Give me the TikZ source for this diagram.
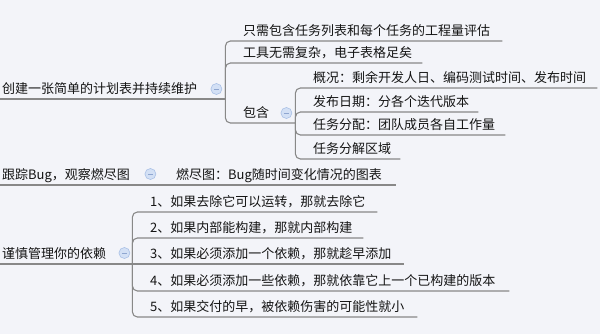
\documentclass[tikz,border=0pt]{standalone}
\usepackage{fontspec}
\setmainfont{Noto Sans CJK SC}
\definecolor{bg}{HTML}{F3F4F9}
\definecolor{ink}{HTML}{141414}
\definecolor{wire}{HTML}{888888}
\definecolor{knobfill}{HTML}{D3E0F5}
\definecolor{knobedge}{HTML}{A9C0E6}
\definecolor{knobbar}{HTML}{8FA6D0}
\begin{document}
\begin{tikzpicture}[x=1pt,y=-1pt,
  label text/.style={anchor=south west, inner ysep=0pt, text height=13pt, text depth=5pt,
    align=left, text=ink, font=\fontsize{13pt}{15pt}\selectfont},
  topic/.style={label text, inner xsep=2pt},
  subtopic/.style={label text, inner xsep=0pt},
  wire/.style={draw=wire, line width=1.1pt, rounded corners=5pt},
  knob/.style={circle, minimum size=11pt, inner sep=0pt, fill=knobfill, draw=knobedge,
    line width=0.6pt,
    path picture={\draw[knobbar, line width=0.9pt]
      ([xshift=-2.6pt]path picture bounding box.center) --
      ([xshift=2.6pt]path picture bounding box.center);}}]

\useasboundingbox[fill=bg] (0,0) rectangle (600,334);

% ---- branch 1: planning sheet ----
\node[topic, text width=221pt] (t1) at (0,99) {创建一张简单的计划表并持续维护};
\node[subtopic, text width=259pt] (c11) at (243,41) {只需包含任务列表和每个任务的工程量评估};
\node[subtopic, text width=179pt] (c12) at (243,63) {工具无需复杂，电子表格足矣};
\node[subtopic, text width=52pt] (c13) at (243,123) {包含};
\node[subtopic, text width=284pt] (c131) at (313,88) {概况：剩余开发人日、编码测试时间、发布时间};
\node[subtopic, text width=165pt] (c132) at (313,112) {发布日期：分各个迭代版本};
\node[subtopic, text width=192pt] (c133) at (313,135) {任务分配：团队成员各自工作量};
\node[subtopic, text width=87pt] (c134) at (313,159) {任务分解区域};

\draw[wire] (t1.south west) -- (t1.south east);
\draw[wire] (t1.south east) |- (c11.south east);
\draw[wire] (t1.south east) |- (c12.south east);
\draw[wire] (t1.south east) |- (c13.south east);
\draw[wire] (c13.south east) |- (c131.south east);
\draw[wire] (c13.south east) |- (c132.south east);
\draw[wire] (c13.south east) |- (c133.south east);
\draw[wire] (c13.south east) |- (c134.south east);

\node[knob] (k1) at ([xshift=-9pt,yshift=10pt]t1.south east) {};
\node[knob] (k13) at ([xshift=-9pt,yshift=10pt]c13.south east) {};

% ---- branch 2: bug tracking ----
\node[topic, text width=154pt] (t2) at (0,185) {跟踪Bug，观察燃尽图};
\node[subtopic, text width=220pt] (c21) at (176,185) {燃尽图：Bug随时间变化情况的图表};

\draw[wire] (t2.south west) -- (t2.south east);
\draw[wire] (t2.south east) -- (c21.south east);
\node[knob] (k2) at ([xshift=-8pt,yshift=11pt]t2.south east) {};

% ---- branch 3: dependencies ----
\node[topic, text width=128pt] (t3) at (0,264) {谨慎管理你的依赖};
\node[subtopic, text width=227pt] (c31) at (150,212) {1、如果去除它可以运转，那就去除它};
\node[subtopic, text width=213pt] (c32) at (150,238) {2、如果内部能构建，那就内部构建};
\node[subtopic, text width=254pt] (c33) at (150,264) {3、如果必须添加一个依赖，那就趁早添加};
\node[subtopic, text width=359pt] (c34) at (150,291) {4、如果必须添加一些依赖，那就依靠它上一个已构建的版本};
\node[subtopic, text width=267pt] (c35) at (150,317) {5、如果交付的早，被依赖伤害的可能性就小};

\draw[wire] (t3.south west) -- (t3.south east);
\draw[wire] (t3.south east) |- (c31.south east);
\draw[wire] (t3.south east) |- (c32.south east);
\draw[wire] (t3.south east) -- (c33.south east);
\draw[wire] (t3.south east) |- (c34.south east);
\draw[wire] (t3.south east) |- (c35.south east);
\node[knob] (k3) at ([xshift=-8pt,yshift=11pt]t3.south east) {};

\end{tikzpicture}
\end{document}
